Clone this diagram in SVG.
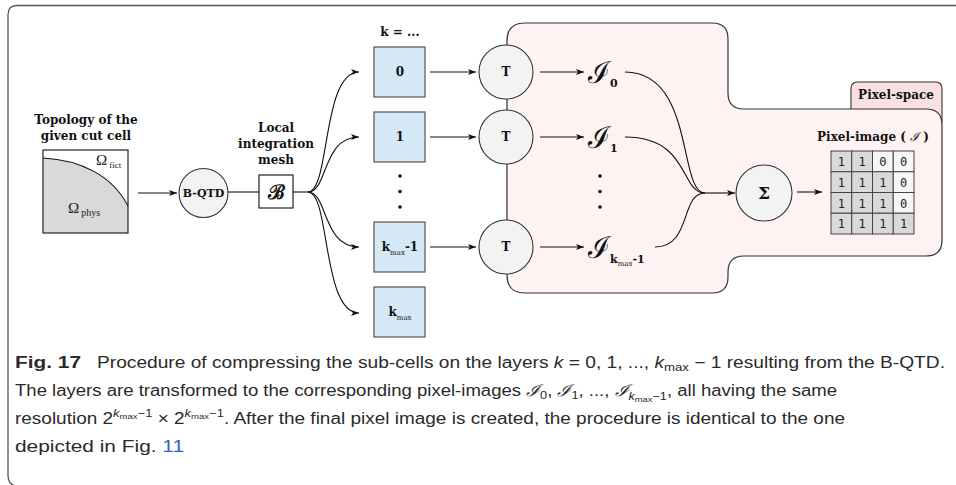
<svg xmlns="http://www.w3.org/2000/svg" width="956" height="485" viewBox="0 0 956 485">
<style>
.lbl{font-family:"DejaVu Serif","Liberation Serif",serif;font-weight:bold;font-size:12px;fill:#111;text-anchor:middle}
.rm{font-family:"Liberation Serif","DejaVu Serif",serif;font-size:15px;fill:#222}
.cap{font-family:"Liberation Sans","DejaVu Sans",sans-serif;font-size:16px;fill:#2a2a2a}
.edge{fill:none;stroke:#111;stroke-width:1.1}
.arrow{marker-end:url(#ah)}
.layer{fill:#d5e8f5;stroke:#555;stroke-width:1.2}
.op{fill:#f3f3f3;stroke:#333;stroke-width:1.1}
.dot{fill:#111}
.px1{fill:#d9d9d9;stroke:#444;stroke-width:1}
.px0{fill:#f6f6f6;stroke:#444;stroke-width:1}
.pxt{font-family:"DejaVu Sans Mono","Liberation Mono",monospace;font-size:12px;fill:#222;text-anchor:middle}
.scr{font-family:"DejaVu Serif","Liberation Serif",serif;font-size:30px;fill:#111}
.sub{font-family:"DejaVu Serif","Liberation Serif",serif;font-weight:bold;font-size:11px;fill:#111}
</style>
<defs>
<marker id="ah" viewBox="0 0 8 6" refX="8" refY="3" markerWidth="8" markerHeight="6" markerUnits="userSpaceOnUse" orient="auto">
<path d="M0,0 L8,3 L0,6 L2,3 Z" fill="#111"/>
</marker>
</defs>

<!-- outer frame -->
<path d="M956,5.5 H17 Q8,5.5 8,15 V475 Q8,486 18,486" fill="none" stroke="#555" stroke-width="1.3"/>

<!-- pixel-space tab and region -->
<g id="pixel-space">
<rect x="851" y="82" width="91" height="45" rx="6" fill="#f9e1e1" stroke="#333" stroke-width="1.1"/>
<text class="lbl" x="896" y="99">Pixel-space</text>
<path d="M507,41 V275 Q507,293 525,293 H712 Q728,293 728,277 V272 Q728,256 744,256 H926 Q942,256 942,240 V125 Q942,109 926,109 H744 Q728,109 728,93 V39 Q728,23 712,23 H525 Q507,23 507,41 Z" fill="#fef2f2" stroke="#333" stroke-width="1.2"/>
</g>

<!-- input cell -->
<g id="cut-cell">
<text class="lbl" x="86" y="124">Topology of the</text>
<text class="lbl" x="86" y="140">given cut cell</text>
<path d="M43,158 C80,160 112,175 128,206 V233 H43 Z" fill="#d9d9d9"/>
<path d="M43,158 C80,160 112,175 128,206" fill="none" stroke="#111" stroke-width="1.1"/>
<rect x="43" y="150" width="85" height="83" fill="none" stroke="#222" stroke-width="1.2"/>
<text class="rm" x="96" y="165">Ω<tspan font-size="9" dx="2" dy="3">fict</tspan></text>
<text class="rm" x="68" y="213">Ω<tspan font-size="10" dx="2" dy="3">phys</tspan></text>
</g>

<g id="bqtd">
<circle class="op" cx="203.5" cy="193" r="24.5"/>
<text class="lbl" x="203.5" y="197" style="font-size:11px">B-QTD</text>
</g>

<g id="mesh">
<text class="lbl" x="276" y="132">Local</text>
<text class="lbl" x="276" y="148">integration</text>
<text class="lbl" x="276" y="164">mesh</text>
<rect x="259" y="175" width="34" height="33" fill="#fff" stroke="#222" stroke-width="1.2"/>
<text x="276" y="199" text-anchor="middle" style="font-family:'DejaVu Serif',serif;font-weight:bold;font-size:20px;fill:#111">ℬ</text>
</g>

<!-- layers -->
<text class="lbl" x="400" y="36">k = ...</text>
<g id="layer-0">
<rect class="layer" x="374" y="47" width="51" height="50"/>
<text class="lbl" x="400" y="76">0</text>
</g>
<g id="layer-1">
<rect class="layer" x="374" y="112" width="51" height="50"/>
<text class="lbl" x="400" y="141">1</text>
</g>
<g id="layer-dots">
<circle class="dot" cx="400" cy="176" r="1.8"/>
<circle class="dot" cx="400" cy="191.5" r="1.8"/>
<circle class="dot" cx="400" cy="207" r="1.8"/>
</g>
<g id="layer-kmax-1">
<rect class="layer" x="374" y="222" width="51" height="50"/>
<text class="lbl" x="400" y="251">k<tspan font-size="7" font-weight="normal" dy="4">max</tspan><tspan dy="-4">-1</tspan></text>
</g>
<g id="layer-kmax">
<rect class="layer" x="374" y="287" width="51" height="50"/>
<text class="lbl" x="400" y="316">k<tspan font-size="7" font-weight="normal" dy="4">max</tspan></text>
</g>

<!-- transforms -->
<g id="t-0"><circle class="op" cx="506" cy="72" r="27"/><text class="lbl" x="506" y="76">T</text></g>
<g id="t-1"><circle class="op" cx="506" cy="137" r="27"/><text class="lbl" x="506" y="141">T</text></g>
<g id="t-kmax-1"><circle class="op" cx="506" cy="247" r="27"/><text class="lbl" x="506" y="251">T</text></g>

<!-- per-layer pixel images -->
<g id="img-0"><text class="scr" x="588" y="83">ℐ<tspan class="sub" dy="4">0</tspan></text></g>
<g id="img-1"><text class="scr" x="588" y="148">ℐ<tspan class="sub" dy="4">1</tspan></text></g>
<g id="img-dots">
<circle class="dot" cx="600" cy="176" r="1.8"/>
<circle class="dot" cx="600" cy="191.5" r="1.8"/>
<circle class="dot" cx="600" cy="207" r="1.8"/>
</g>
<g id="img-kmax-1"><text class="scr" x="588" y="258">ℐ<tspan class="sub" dy="5">k</tspan><tspan style="font-family:'DejaVu Serif',serif;font-size:7px" dy="3">max</tspan><tspan class="sub" dy="-3">-1</tspan></text></g>

<g id="sum">
<circle class="op" cx="764" cy="193" r="28"/>
<text class="lbl" x="764" y="199" style="font-size:17px">Σ</text>
</g>

<g id="pixel-image">
<text class="lbl" x="873" y="141">Pixel-image ( <tspan style="font-style:italic;font-weight:normal">ℐ</tspan> )</text>
<rect class="px1" x="831" y="151" width="20.75" height="20.75"/>
<rect class="px1" x="851.75" y="151" width="20.75" height="20.75"/>
<rect class="px0" x="872.5" y="151" width="20.75" height="20.75"/>
<rect class="px0" x="893.25" y="151" width="20.75" height="20.75"/>
<rect class="px1" x="831" y="171.75" width="20.75" height="20.75"/>
<rect class="px1" x="851.75" y="171.75" width="20.75" height="20.75"/>
<rect class="px1" x="872.5" y="171.75" width="20.75" height="20.75"/>
<rect class="px0" x="893.25" y="171.75" width="20.75" height="20.75"/>
<rect class="px1" x="831" y="192.5" width="20.75" height="20.75"/>
<rect class="px1" x="851.75" y="192.5" width="20.75" height="20.75"/>
<rect class="px1" x="872.5" y="192.5" width="20.75" height="20.75"/>
<rect class="px0" x="893.25" y="192.5" width="20.75" height="20.75"/>
<rect class="px1" x="831" y="213.25" width="20.75" height="20.75"/>
<rect class="px1" x="851.75" y="213.25" width="20.75" height="20.75"/>
<rect class="px1" x="872.5" y="213.25" width="20.75" height="20.75"/>
<rect class="px1" x="893.25" y="213.25" width="20.75" height="20.75"/>
<text class="pxt" x="841.4" y="166">1</text><text class="pxt" x="862.1" y="166">1</text><text class="pxt" x="882.9" y="166">0</text><text class="pxt" x="903.6" y="166">0</text>
<text class="pxt" x="841.4" y="186.7">1</text><text class="pxt" x="862.1" y="186.7">1</text><text class="pxt" x="882.9" y="186.7">1</text><text class="pxt" x="903.6" y="186.7">0</text>
<text class="pxt" x="841.4" y="207.5">1</text><text class="pxt" x="862.1" y="207.5">1</text><text class="pxt" x="882.9" y="207.5">1</text><text class="pxt" x="903.6" y="207.5">0</text>
<text class="pxt" x="841.4" y="228.2">1</text><text class="pxt" x="862.1" y="228.2">1</text><text class="pxt" x="882.9" y="228.2">1</text><text class="pxt" x="903.6" y="228.2">1</text>
</g>

<!-- connectors -->
<g id="connectors">
<path class="edge arrow" d="M138,193 H177"/>
<path class="edge" d="M228,192 H259"/>
<path class="edge" d="M293,192 H308"/>
<path class="edge arrow" d="M308,192 C330,192 322,72 359,72"/>
<path class="edge arrow" d="M308,192 C328,192 322,137 359,137"/>
<path class="edge arrow" d="M308,192 C328,192 322,247 359,247"/>
<path class="edge arrow" d="M308,192 C330,192 322,313 359,313"/>
<path class="edge arrow" d="M430,72 H476"/>
<path class="edge arrow" d="M430,137 H476"/>
<path class="edge arrow" d="M430,247 H476"/>
<path class="edge arrow" d="M540,72 H584"/>
<path class="edge arrow" d="M540,137 H584"/>
<path class="edge arrow" d="M540,247 H584"/>
<path class="edge" d="M625,72 C695,72 678,193 705,193"/>
<path class="edge" d="M625,137 C690,137 680,193 705,193"/>
<path class="edge" d="M655,247 C692,247 680,193 705,193"/>
<path class="edge arrow" d="M705,193 H735"/>
<path class="edge arrow" d="M797,192 H822"/>
</g>

<!-- caption -->
<g id="caption">
<text class="cap" x="15" y="368" font-weight="bold" textLength="66" lengthAdjust="spacingAndGlyphs">Fig. 17</text>
<text class="cap" x="97" y="368" textLength="848" lengthAdjust="spacingAndGlyphs">Procedure of compressing the sub-cells on the layers <tspan font-style="italic">k</tspan> = 0, 1, ..., <tspan font-style="italic">k</tspan><tspan font-size="11" dy="3">max</tspan><tspan dy="-3"> − 1 resulting from the B-QTD.</tspan></text>
<text class="cap" x="15" y="396" textLength="822" lengthAdjust="spacingAndGlyphs">The layers are transformed to the corresponding pixel-images <tspan font-family="'DejaVu Serif',serif" font-style="italic">ℐ</tspan><tspan font-size="11" dy="3">0</tspan><tspan dy="-3">, </tspan><tspan font-family="'DejaVu Serif',serif" font-style="italic">ℐ</tspan><tspan font-size="11" dy="3">1</tspan><tspan dy="-3">, ..., </tspan><tspan font-family="'DejaVu Serif',serif" font-style="italic">ℐ</tspan><tspan font-size="11" font-style="italic" dy="4">k</tspan><tspan font-size="8" dy="2">max</tspan><tspan font-size="11" dy="-2">−1</tspan><tspan dy="-4">, all having the same</tspan></text>
<text class="cap" x="15" y="424" textLength="830" lengthAdjust="spacingAndGlyphs">resolution 2<tspan font-size="11" font-style="italic" dy="-7">k</tspan><tspan font-size="8" dy="2">max</tspan><tspan font-size="11" dy="-2">−1</tspan><tspan dy="7"> × 2</tspan><tspan font-size="11" font-style="italic" dy="-7">k</tspan><tspan font-size="8" dy="2">max</tspan><tspan font-size="11" dy="-2">−1</tspan><tspan dy="7">. After the final pixel image is created, the procedure is identical to the one</tspan></text>
<text class="cap" x="15" y="452" textLength="169" lengthAdjust="spacingAndGlyphs">depicted in Fig. <tspan fill="#3a5fcd">11</tspan></text>
</g>
</svg>
